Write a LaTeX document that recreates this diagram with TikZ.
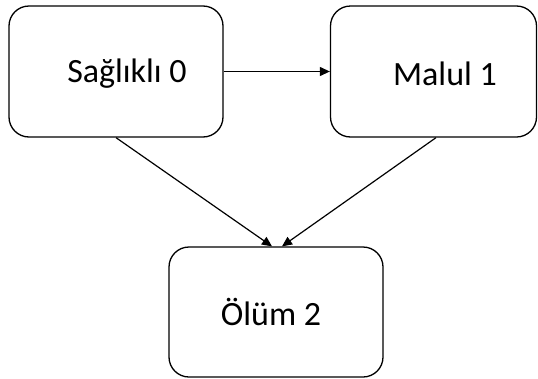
\documentclass[tikz,border=0pt]{standalone}
\usepackage{fontspec}
\setmainfont{Carlito}
\usetikzlibrary{arrows.meta,calc}
\begin{document}
\begin{tikzpicture}[x=1pt,y=-1pt,
  box/.style={draw,line width=1.3pt,rounded corners=20pt,inner sep=0pt},
  lbl/.style={inner sep=0pt,font=\fontsize{34}{40}\selectfont},
  arr/.style={line width=1.2pt,-{Triangle[length=10pt,width=9pt]}}]
\useasboundingbox (0,0) rectangle (538,378);
\node[box,minimum width=214pt,minimum height=131pt] (s) at (116,71.5) {};
\node[box,minimum width=206pt,minimum height=131pt] (m) at (433.5,71.5) {};
\node[box,minimum width=214pt,minimum height=130pt] (o) at (276,312) {};
\node[lbl] (st) at (127,74) {Sağlıklı 0};
\node[lbl] (mt) at (445,74) {Malul 1};
\node[lbl] (ot) at (271,312) {Ölüm 2};
\draw[arr] (s.east) -- (m.west);
\draw[arr] (s.south) -- ($(o.north)+(-4,0)$);
\draw[arr] ($(m.south)+(2.5,0)$) -- ($(o.north)+(6,0)$);
\end{tikzpicture}
\end{document}
